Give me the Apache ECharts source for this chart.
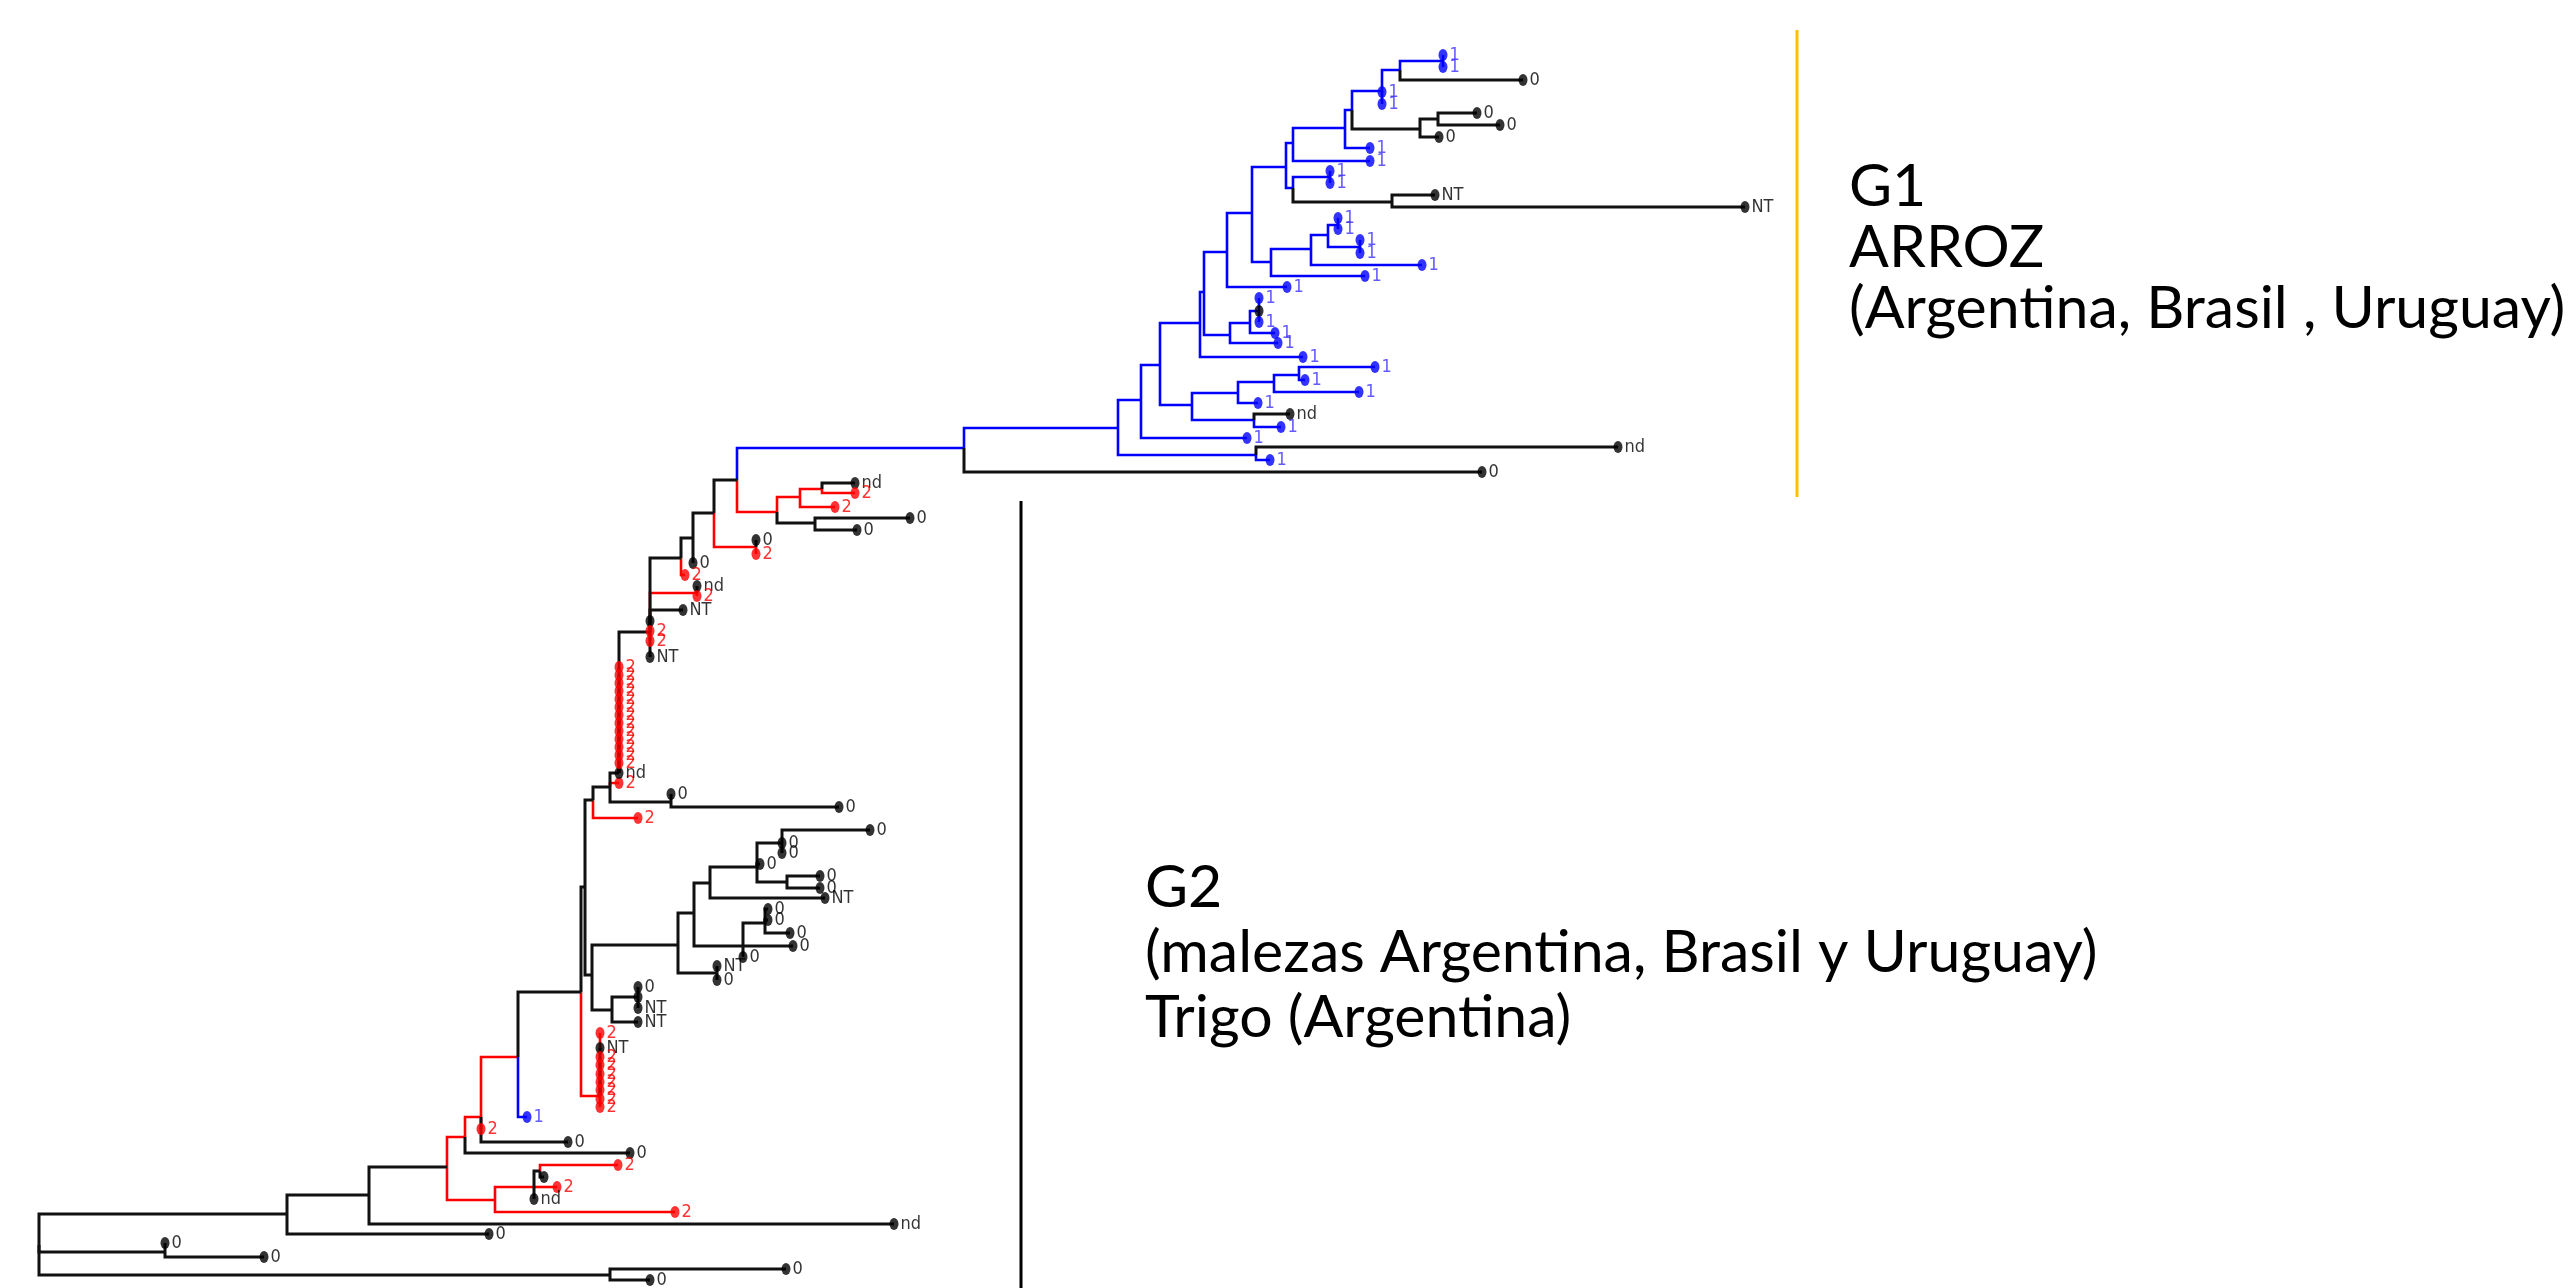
<!DOCTYPE html>
<html lang="es">
<head>
<meta charset="UTF-8">
<title>Árbol G1 / G2</title>
<script src="https://cdn.jsdelivr.net/npm/echarts/dist/echarts.min.js"></script>
<style>html,body{margin:0;padding:0;background:#fff}</style>
</head>
<body>
<div id="chart" style="width:2575px;height:1288px"></div>
<script>
// each row: [id, parent, depth(x), row(y), group, leaf label]  label null = internal node
// group 0 = black, 1 = blue (arroz), 2 = red
const rootClade = [
  ['root', null, 39, 1245, 0, null],
  ['A', 'root', 287, 1214, 0, null],
  ['B', 'root', 165, 1252, 0, null],
  ['C', 'root', 610, 1275, 0, null],
  ['b1', 'B', 165, 1243, 0, '0'],
  ['b2', 'B', 264, 1257, 0, '0'],
  ['c1', 'C', 786, 1269, 0, '0'],
  ['c2', 'C', 650, 1280, 0, '0'],
  ['A1', 'A', 369, 1195, 0, null],
  ['a2', 'A', 489, 1234, 0, '0'],
  ['A1a', 'A1', 447, 1167, 0, null],
  ['a1b', 'A1', 894, 1224, 0, 'nd']
];

const g2Lower = [
  ['K', 'A1a', 465, 1137, 2, null],
  ['Q', 'A1a', 495, 1200, 2, null],
  ['Q1', 'Q', 534, 1187, 2, null],
  ['q2', 'Q', 675, 1212, 2, '2'],
  ['R', 'Q1', 540, 1171, 0, null],
  ['r1', 'R', 618, 1165, 2, '2'],
  ['r2', 'R', 544, 1177, 0, ''],
  ['q1b', 'Q1', 557, 1187, 2, '2'],
  ['q1c', 'Q1', 534, 1199, 0, 'nd'],
  ['L', 'K', 481, 1117, 2, null],
  ['k2', 'K', 630, 1153, 0, '0'],
  ['M', 'L', 518, 1057, 2, null],
  ['l2', 'L', 481, 1129, 2, '2'],
  ['l3', 'L', 568, 1142, 0, '0'],
  ['M1', 'M', 581, 992, 0, null],
  ['m2', 'M', 527, 1117, 1, '1'],
  ['S', 'M1', 600, 1096, 2, null],
  ['s1', 'S', 600, 1033, 2, '2'],
  ['s2', 'S', 600, 1048, 0, 'NT'],
  ['s3', 'S', 600, 1057, 2, '2'],
  ['s4', 'S', 600, 1065, 2, '2'],
  ['s5', 'S', 600, 1074, 2, '2'],
  ['s6', 'S', 600, 1082, 2, '2'],
  ['s7', 'S', 600, 1090, 2, '2'],
  ['s8', 'S', 600, 1099, 2, '2'],
  ['s9', 'S', 600, 1107, 2, '2']
];

const g2Middle = [
  ['N2', 'M1', 585, 887, 0, null],
  ['N3', 'N2', 593, 800, 0, null],
  ['U', 'N2', 592, 975, 0, null],
  ['N4', 'N3', 610, 787, 0, null],
  ['n3b', 'N3', 638, 818, 2, '2'],
  ['N5', 'N4', 619, 773, 0, null],
  ['n4b', 'N4', 619, 783, 2, '2'],
  ['N6', 'N4', 671, 802, 0, null],
  ['n6a', 'N6', 671, 794, 0, '0'],
  ['n6b', 'N6', 839, 807, 0, '0'],
  ['n5nd', 'N5', 619, 773, 0, 'nd'],
  ['p1', 'N5', 619, 667, 2, '2'],
  ['p2', 'N5', 619, 675, 2, '2'],
  ['p3', 'N5', 619, 683, 2, '2'],
  ['p4', 'N5', 619, 691, 2, '2'],
  ['p5', 'N5', 619, 699, 2, '2'],
  ['p6', 'N5', 619, 707, 2, '2'],
  ['p7', 'N5', 619, 715, 2, '2'],
  ['p8', 'N5', 619, 723, 2, '2'],
  ['p9', 'N5', 619, 731, 2, '2'],
  ['p10', 'N5', 619, 739, 2, '2'],
  ['p11', 'N5', 619, 747, 2, '2'],
  ['p12', 'N5', 619, 755, 2, '2'],
  ['p13', 'N5', 619, 763, 2, '2'],
  ['V', 'U', 678, 945, 0, null],
  ['T', 'U', 612, 1010, 0, null],
  ['T1', 'T', 638, 997, 0, null],
  ['t2', 'T', 638, 1022, 0, 'NT'],
  ['t1a', 'T1', 638, 987, 0, '0'],
  ['t1b', 'T1', 638, 997, 0, ''],
  ['t1c', 'T1', 638, 1008, 0, 'NT'],
  ['X', 'V', 694, 913, 0, null],
  ['W', 'V', 717, 973, 0, null],
  ['w1', 'W', 717, 966, 0, 'NT'],
  ['w2', 'W', 717, 980, 0, '0'],
  ['Y', 'X', 710, 883, 0, null],
  ['AA', 'X', 743, 946, 0, null],
  ['Z', 'Y', 757, 867, 0, null],
  ['y2', 'Y', 825, 898, 0, 'NT'],
  ['Z1', 'Z', 782, 843, 0, null],
  ['z2', 'Z', 760, 864, 0, '0'],
  ['Z2', 'Z', 787, 882, 0, null],
  ['z1a', 'Z1', 870, 830, 0, '0'],
  ['z1b', 'Z1', 782, 843, 0, '0'],
  ['z1c', 'Z1', 782, 853, 0, '0'],
  ['z2a', 'Z2', 820, 876, 0, '0'],
  ['z2b', 'Z2', 820, 888, 0, '0'],
  ['AB', 'AA', 765, 923, 0, null],
  ['aa2', 'AA', 793, 946, 0, '0'],
  ['aa3', 'AA', 743, 957, 0, '0'],
  ['ab1', 'AB', 768, 909, 0, '0'],
  ['ab2', 'AB', 768, 920, 0, '0'],
  ['ab3', 'AB', 790, 933, 0, '0']
];

const g2Upper = [
  ['N7', 'N5', 650, 632, 0, null],
  ['GG', 'N7', 681, 558, 0, null],
  ['II', 'N7', 697, 593, 2, null],
  ['ii1', 'II', 697, 586, 0, 'nd'],
  ['ii2', 'II', 697, 596, 2, '2'],
  ['n7a', 'N7', 683, 610, 0, 'NT'],
  ['n7b', 'N7', 650, 621, 0, ''],
  ['n7c', 'N7', 650, 631, 2, '2'],
  ['n7d', 'N7', 650, 641, 2, '2'],
  ['n7e', 'N7', 650, 657, 0, 'NT'],
  ['FF', 'GG', 693, 538, 0, null],
  ['gg2', 'GG', 685, 575, 2, '2'],
  ['EE', 'FF', 714, 513, 0, null],
  ['ff2', 'FF', 693, 563, 0, '0'],
  ['BB', 'EE', 737, 480, 0, null],
  ['DD', 'EE', 756, 547, 2, null],
  ['dd1', 'DD', 756, 540, 0, '0'],
  ['dd2', 'DD', 756, 554, 2, '2'],
  ['CC', 'BB', 777, 512, 2, null],
  ['CC1', 'CC', 800, 497, 2, null],
  ['CC2', 'CC', 815, 523, 0, null],
  ['CC1a', 'CC1', 822, 489, 2, null],
  ['cc1b', 'CC1', 835, 507, 2, '2'],
  ['cc1c', 'CC1a', 855, 483, 0, 'nd'],
  ['cc1d', 'CC1a', 855, 493, 2, '2'],
  ['cc2a', 'CC2', 910, 518, 0, '0'],
  ['cc2b', 'CC2', 857, 530, 0, '0']
];

const g1Clade = [
  ['G1root', 'BB', 964, 448, 1, null],
  ['G1a', 'G1root', 1118, 428, 1, null],
  ['g1r2', 'G1root', 1482, 472, 0, '0'],
  ['G1b', 'G1a', 1141, 400, 1, null],
  ['G1c', 'G1a', 1256, 455, 1, null],
  ['g1c1', 'G1c', 1618, 447, 0, 'nd'],
  ['g1c2', 'G1c', 1270, 460, 1, '1'],
  ['G1d', 'G1b', 1160, 365, 1, null],
  ['g1b2', 'G1b', 1247, 438, 1, '1'],
  ['G1e', 'G1d', 1200, 323, 1, null],
  ['G1f', 'G1d', 1192, 405, 1, null],
  ['G1g', 'G1f', 1238, 393, 1, null],
  ['G1j', 'G1f', 1254, 420, 1, null],
  ['G1h', 'G1g', 1274, 382, 1, null],
  ['g1g2', 'G1g', 1258, 403, 1, '1'],
  ['G1i', 'G1h', 1299, 375, 1, null],
  ['g1h2', 'G1h', 1359, 392, 1, '1'],
  ['g1i1', 'G1i', 1375, 367, 1, '1'],
  ['g1i2', 'G1i', 1305, 380, 1, '1'],
  ['g1j1', 'G1j', 1290, 414, 0, 'nd'],
  ['g1j2', 'G1j', 1281, 427, 1, '1'],
  ['G1k', 'G1e', 1204, 292, 1, null],
  ['g1e2', 'G1e', 1303, 357, 1, '1'],
  ['G1l', 'G1k', 1227, 252, 1, null],
  ['G1u', 'G1k', 1230, 335, 1, null],
  ['G1v', 'G1u', 1250, 323, 1, null],
  ['g1u2', 'G1u', 1278, 343, 1, '1'],
  ['G1w', 'G1v', 1259, 311, 1, null],
  ['g1v2', 'G1v', 1275, 333, 1, '1'],
  ['g1w1', 'G1w', 1259, 298, 1, '1'],
  ['g1w2', 'G1w', 1259, 311, 0, ''],
  ['g1w3', 'G1w', 1259, 322, 1, '1'],
  ['G1m', 'G1l', 1252, 213, 1, null],
  ['g1l2', 'G1l', 1287, 287, 1, '1'],
  ['G1n', 'G1m', 1286, 167, 1, null],
  ['G1p', 'G1m', 1271, 262, 1, null],
  ['G1q', 'G1p', 1311, 249, 1, null],
  ['g1p2', 'G1p', 1365, 276, 1, '1'],
  ['G1r', 'G1q', 1328, 235, 1, null],
  ['g1q2', 'G1q', 1422, 265, 1, '1'],
  ['G1s', 'G1r', 1338, 225, 1, null],
  ['G1t', 'G1r', 1360, 247, 1, null],
  ['g1s1', 'G1s', 1338, 218, 1, '1'],
  ['g1s2', 'G1s', 1338, 229, 1, '1'],
  ['g1t1', 'G1t', 1360, 240, 1, '1'],
  ['g1t2', 'G1t', 1360, 253, 1, '1'],
  ['G1n1', 'G1n', 1293, 143, 1, null],
  ['G1x', 'G1n', 1293, 188, 1, null],
  ['G1y', 'G1x', 1330, 177, 1, null],
  ['G1z', 'G1x', 1392, 202, 0, null],
  ['g1y1', 'G1y', 1330, 171, 1, '1'],
  ['g1y2', 'G1y', 1330, 183, 1, '1'],
  ['g1z1', 'G1z', 1435, 195, 0, 'NT'],
  ['g1z2', 'G1z', 1745, 207, 0, 'NT'],
  ['G1n2', 'G1n1', 1345, 128, 1, null],
  ['g1n1b', 'G1n1', 1370, 161, 1, '1'],
  ['G1n3', 'G1n2', 1352, 110, 1, null],
  ['g1n2b', 'G1n2', 1370, 148, 1, '1'],
  ['G1n4', 'G1n3', 1382, 91, 1, null],
  ['G1o', 'G1n3', 1420, 129, 0, null],
  ['G1n5', 'G1n4', 1400, 70, 1, null],
  ['g1n4b', 'G1n4', 1382, 92, 1, '1'],
  ['g1n4c', 'G1n4', 1382, 104, 1, '1'],
  ['G1n6', 'G1n5', 1443, 61, 1, null],
  ['g1n5b', 'G1n5', 1523, 80, 0, '0'],
  ['g1n6a', 'G1n6', 1443, 55, 1, '1'],
  ['g1n6b', 'G1n6', 1443, 67, 1, '1'],
  ['G1o1', 'G1o', 1438, 119, 0, null],
  ['g1o2', 'G1o', 1439, 137, 0, '0'],
  ['g1o1a', 'G1o1', 1477, 113, 0, '0'],
  ['g1o1b', 'G1o1', 1500, 125, 0, '0']
];

const g1Text = ['G1', 'ARROZ', '(Argentina, Brasil , Uruguay)'];
const g2Text = ['G2', '(malezas Argentina, Brasil y Uruguay)', 'Trigo (Argentina)'];

const branchColor = { 0: '#111111', 1: '#0000ff', 2: '#ff0000' };
const dotColor = { 0: '#000000', 1: '#0000ff', 2: '#ff0000' };
const tipColor = { 0: '#000000', 1: '#3b2fff', 2: '#ff0000' };

const nodes = [].concat(rootClade, g2Lower, g2Middle, g2Upper, g1Clade);
const byId = {};
nodes.forEach(n => { byId[n[0]] = n; });

// elbow branch: along the parent's vertical, then across to the child
let branches = nodes.filter(n => n[1]).map(n => {
  const p = byId[n[1]];
  return {
    grp: n[4],
    coords: [[p[2], p[3]], [p[2], n[3]], [n[2], n[3]]],
    lineStyle: { color: branchColor[n[4]], width: n[4] === 0 ? 3 : 2.6 }
  };
});
// black on top, like the original
branches.sort((a, b) => (a.grp === 0) - (b.grp === 0));

const tips = nodes.filter(n => n[5] !== null).map(n => ({
  value: [n[2], n[3]],
  tag: n[5],
  itemStyle: { color: dotColor[n[4]] },
  label: { color: tipColor[n[4]] }
}));

const textBlock = (lines, x, y0, step) => lines.map((t, i) => ({
  type: 'text',
  x: x,
  y: y0 + i * step,
  style: {
    text: t,
    fill: '#000',
    font: '59px Lato, "Noto Sans", sans-serif',
    textVerticalAlign: 'middle',
    verticalAlign: 'middle'
  }
}));

const chart = echarts.init(document.getElementById('chart'));
chart.setOption({
  backgroundColor: '#ffffff',
  animation: false,
  grid: { left: 0, right: 0, top: 0, bottom: 0 },
  xAxis: { type: 'value', min: 0, max: 2575, show: false },
  yAxis: { type: 'value', min: 0, max: 1288, inverse: true, show: false },
  series: [
    {
      type: 'lines',
      coordinateSystem: 'cartesian2d',
      polyline: true,
      silent: true,
      lineStyle: { width: 2.6, opacity: 1 },
      data: branches,
      z: 2
    },
    {
      type: 'scatter',
      symbol: 'circle',
      symbolSize: [9, 12],
      silent: true,
      data: tips,
      label: {
        show: true,
        position: 'right',
        distance: 2,
        fontSize: 18,
        fontFamily: '"Liberation Sans Narrow", "DejaVu Sans Condensed", sans-serif',
        formatter: p => p.data.tag
      },
      z: 3
    }
  ],
  graphic: [
    { type: 'line', shape: { x1: 1797, y1: 30, x2: 1797, y2: 497 }, style: { stroke: '#ffc000', lineWidth: 3 } },
    { type: 'line', shape: { x1: 1021, y1: 501, x2: 1021, y2: 1288 }, style: { stroke: '#000000', lineWidth: 3 } }
  ].concat(textBlock(g1Text, 1849, 187, 61), textBlock(g2Text, 1145, 888, 65))
});
</script>
</body>
</html>
